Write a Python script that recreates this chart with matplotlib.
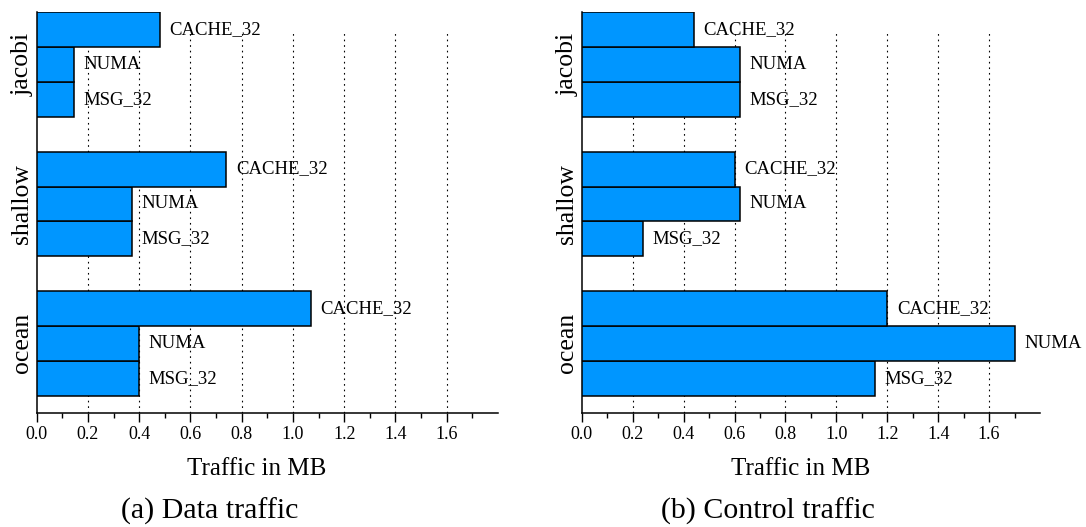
import numpy as np
import matplotlib
matplotlib.use("Agg")
import matplotlib.pyplot as plt
from matplotlib.transforms import blended_transform_factory

plt.rcParams['font.family'] = ['Liberation Serif', 'DejaVu Serif']

# benchmarks, bottom to top
apps = ["ocean", "shallow", "jacobi"]
# protocols inside each group, bottom to top
protocols = ["MSG_32", "NUMA", "CACHE_32"]

# traffic in MB, rows follow apps, columns follow protocols
data_traffic = [
    [0.40, 0.40, 1.07],   # ocean
    [0.37, 0.37, 0.74],   # shallow
    [0.145, 0.145, 0.48], # jacobi
]
control_traffic = [
    [1.15, 1.70, 1.20],   # ocean
    [0.24, 0.62, 0.60],   # shallow
    [0.62, 0.62, 0.44],   # jacobi
]

major_ticks = [0.0, 0.2, 0.4, 0.6, 0.8, 1.0, 1.2, 1.4, 1.6]
minor_ticks = [0.1, 0.3, 0.5, 0.7, 0.9, 1.1, 1.3, 1.5, 1.7]
captions = ["(a) Data traffic", "(b) Control traffic"]

bar_color = '#0096ff'
W, H = 1086, 527
fig = plt.figure(figsize=(W / 100, H / 100), dpi=100)

ax_boxes = [
    [36.7 / W, 1 - 413 / H, 461.3 / W, 400.7 / H],
    [581.8 / W, 1 - 413 / H, 458.2 / W, 400.7 / H],
]
caption_x = [210 / W, 768 / W]


def draw_panel(ax, values):
    group_step = len(protocols) + 1
    trans = blended_transform_factory(ax.transAxes, ax.transData)
    for gi, app in enumerate(apps):
        base = gi * group_step
        for pi, proto in enumerate(protocols):
            y = base + pi
            v = values[gi][pi]
            ax.barh(y, v, height=1.0, color=bar_color, edgecolor='black',
                    linewidth=1.1, zorder=3)
            ax.annotate(proto, (v, y), xytext=(7, 0), textcoords='offset points',
                        ha='left', va='center', fontsize=13.5, zorder=4)
        # group name on the left, rotated
        ax.text(-8.5 / 461.0, base + 1, app, transform=trans, rotation=90,
                rotation_mode='anchor', ha='center', va='baseline', fontsize=18.5)

    # dotted vertical grid
    ax.vlines(major_ticks[1:], -1, 9.9, colors='black', linestyles=(0, (1.5, 3.5)),
              linewidth=0.8, zorder=1)

    ax.set_xlim(0, 1.8)
    ax.set_ylim(-1, 10.5)
    ax.set_xticks(major_ticks)
    ax.set_xticklabels([f"{t:.1f}" for t in major_ticks])
    ax.set_xticks(minor_ticks, minor=True)
    ax.tick_params(axis='x', which='major', direction='out', length=6.5, width=1.0,
                   pad=3, labelsize=13)
    ax.tick_params(axis='x', which='minor', direction='out', length=3.6, width=1.0)
    ax.set_yticks([])
    for side in ['top', 'right']:
        ax.spines[side].set_visible(False)
    ax.spines['left'].set_linewidth(1.1)
    ax.spines['bottom'].set_linewidth(1.1)

    ax.set_xlabel("Traffic in MB", fontsize=18, va='baseline')
    ax.xaxis.set_label_coords(0.477, -(475 - 413) / 400.7)


for box, vals, cap, cx in zip(ax_boxes, [data_traffic, control_traffic], captions, caption_x):
    ax = fig.add_axes(box)
    draw_panel(ax, vals)
    fig.text(cx, 1 - 519 / H, cap, ha='center', va='baseline', fontsize=21.5)

fig.savefig("out.png", dpi=100)
